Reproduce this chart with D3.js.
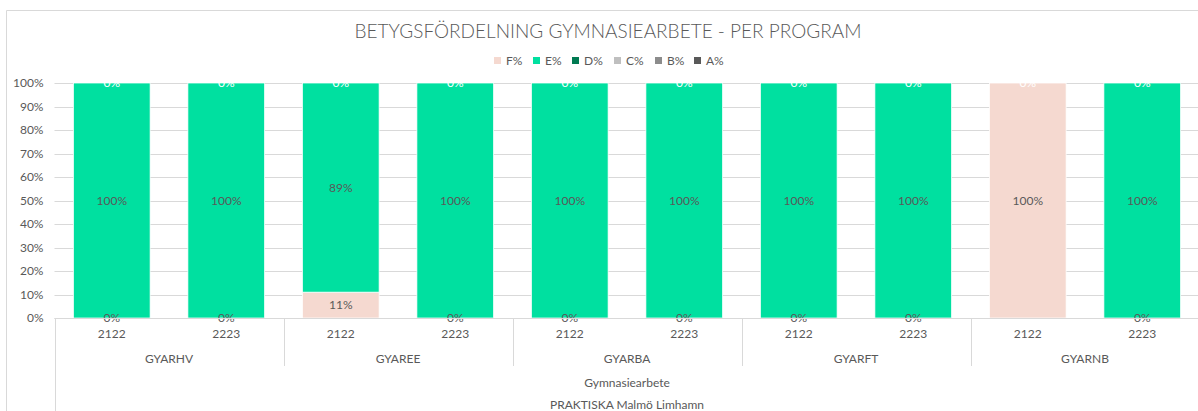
<!DOCTYPE html>
<html lang="sv">
<meta charset="utf-8">
<style type="text/css">
  body { margin: 0; background: #fff; }
  svg { display: block; font-family: "Century Gothic", "Lato", "DejaVu Sans", sans-serif; }
  .grid line { stroke: #d9d9d9; stroke-width: 1px; }
  .lbl { font-size: 12px; fill: #595959; }
</style>
<body>
<script src="https://d3js.org/d3.v7.min.js"></script>
<script>
// data
var programs = ["GYARHV", "GYAREE", "GYARBA", "GYARFT", "GYARNB"];
var years = ["2122", "2223"];
var seriesNames = ["F%", "E%", "D%", "C%", "B%", "A%"];
var F = [0, 0, 11, 0, 0, 0, 0, 0, 100, 0];
var E = [100, 100, 89, 100, 100, 100, 100, 100, 0, 100];
var D = [0, 0, 0, 0, 0, 0, 0, 0, 0, 0];
var C = [0, 0, 0, 0, 0, 0, 0, 0, 0, 0];
var B = [0, 0, 0, 0, 0, 0, 0, 0, 0, 0];
var A = [0, 0, 0, 0, 0, 0, 0, 0, 0, 0];
var yTicks = [0, 10, 20, 30, 40, 50, 60, 70, 80, 90, 100];
var level1 = "Gymnasiearbete";
var level2 = "PRAKTISKA Malmö Limhamn";
var title = "BETYGSFÖRDELNING GYMNASIEARBETE - PER PROGRAM";

var colors = ["#f5d9d0", "#00e0a0", "#007a52", "#bfbfbf", "#8c8c8c", "#595959"];
var labelColors = ["#595959", "#595959", "#fff", "#fff", "#fff", "#fff"];

var width = 1198, height = 411;
var plotLeft = 54.5, plotRight = 1199.5, plotTop = 83, plotBottom = 318;

var rows = [];
programs.forEach(function (p) {
  years.forEach(function (yr) {
    var i = rows.length;
    rows.push({key: p + "|" + yr, program: p, year: yr,
      "F%": F[i], "E%": E[i], "D%": D[i], "C%": C[i], "B%": B[i], "A%": A[i]});
  });
});

var svg = d3.select("body").append("svg")
    .attr("width", width)
    .attr("height", height);

// chart frame
svg.append("path")
    .attr("d", "M6.5," + height + " V10.5 H" + (width + 1))
    .attr("fill", "none")
    .attr("stroke", "#d9d9d9");

svg.append("text")
    .attr("x", 608).attr("y", 38)
    .attr("text-anchor", "middle")
    .style("font-size", "19px")
    .style("font-weight", 300)
    .style("fill", "#595959")
    .text(title);

var x = d3.scaleBand()
    .domain(rows.map(function (d) { return d.key; }))
    .range([plotLeft, plotRight])
    .paddingInner(0.33)
    .paddingOuter(0.165);

var y = d3.scaleLinear().domain([0, 100]).range([plotBottom, plotTop]);

// gridlines
svg.append("g").attr("class", "grid")
  .selectAll("line").data(yTicks).enter().append("line")
    .attr("x1", plotLeft).attr("x2", width)
    .attr("y1", function (d) { return Math.round(y(d)) + 0.5; })
    .attr("y2", function (d) { return Math.round(y(d)) + 0.5; });

var yAxis = svg.append("g")
    .attr("transform", "translate(" + (plotLeft - 11) + ",0)")
    .call(d3.axisLeft(y).tickValues(yTicks).tickSize(0).tickFormat(function (d) { return d + "%"; }));
yAxis.select(".domain").remove();
yAxis.attr("font-family", null).attr("font-size", null);
yAxis.selectAll("text").attr("class", "lbl").attr("x", 0).attr("fill", null);

var stack = d3.stack().keys(seriesNames)(rows);

var layers = svg.append("g").selectAll("g").data(stack).enter().append("g")
    .attr("fill", function (d, i) { return colors[i]; });

layers.selectAll("rect").data(function (d) { return d; }).enter().append("rect")
    .attr("x", function (d) { return x(d.data.key); })
    .attr("width", x.bandwidth())
    .attr("y", function (d) { return y(d[1]); })
    .attr("height", function (d) { return y(d[0]) - y(d[1]); })
    .attr("stroke", "#fff")
    .attr("stroke-width", 0.75);

// data labels; where several sit on the same spot only the topmost series shows
var labels = {};
stack.forEach(function (s, si) {
  s.forEach(function (d) {
    var lx = x(d.data.key) + x.bandwidth() / 2;
    var ly = y((d[0] + d[1]) / 2);
    labels[lx + "," + ly] = {x: lx, y: ly, color: labelColors[si], text: Math.round(d[1] - d[0]) + "%"};
  });
});

svg.append("g").selectAll("text").data(Object.values(labels)).enter().append("text")
    .attr("class", "lbl")
    .style("fill", function (d) { return d.color; })
    .attr("text-anchor", "middle")
    .attr("dy", "0.35em")
    .attr("x", function (d) { return d.x; })
    .attr("y", function (d) { return d.y; })
    .text(function (d) { return d.text; });

// category axis
var axisG = svg.append("g");
axisG.append("line")
    .attr("x1", plotLeft).attr("x2", width)
    .attr("y1", plotBottom + 0.5).attr("y2", plotBottom + 0.5)
    .attr("stroke", "#d9d9d9");

axisG.selectAll(".yr").data(rows).enter().append("text")
    .attr("class", "lbl")
    .attr("text-anchor", "middle")
    .attr("x", function (d) { return x(d.key) + x.bandwidth() / 2; })
    .attr("y", 338)
    .text(function (d) { return d.year; });

var step = x.step();
programs.forEach(function (p, i) {
  var gx = plotLeft + i * 2 * step;
  axisG.append("line")
      .attr("x1", Math.round(gx) + 0.5).attr("x2", Math.round(gx) + 0.5)
      .attr("y1", plotBottom).attr("y2", i === 0 ? height : 366)
      .attr("stroke", "#d9d9d9");
  axisG.append("text")
      .attr("class", "lbl")
      .attr("text-anchor", "middle")
      .attr("x", gx + step)
      .attr("y", 363)
      .text(p);
});

axisG.append("text").attr("class", "lbl").attr("text-anchor", "middle")
    .attr("x", plotLeft + 5 * step).attr("y", 387).text(level1);
axisG.append("text").attr("class", "lbl").attr("text-anchor", "middle")
    .attr("x", plotLeft + 5 * step).attr("y", 409).text(level2);

// legend
var legendX = [494, 533, 572, 614, 655, 694];
var legend = svg.append("g").selectAll("g").data(seriesNames).enter().append("g")
    .attr("transform", function (d, i) { return "translate(" + legendX[i] + ",57)"; });
legend.append("rect")
    .attr("width", 7).attr("height", 7)
    .attr("fill", function (d, i) { return colors[i]; });
legend.append("text")
    .attr("class", "lbl")
    .attr("x", 12).attr("y", 3.5).attr("dy", "0.35em")
    .text(function (d) { return d; });
</script>
</body>
</html>
